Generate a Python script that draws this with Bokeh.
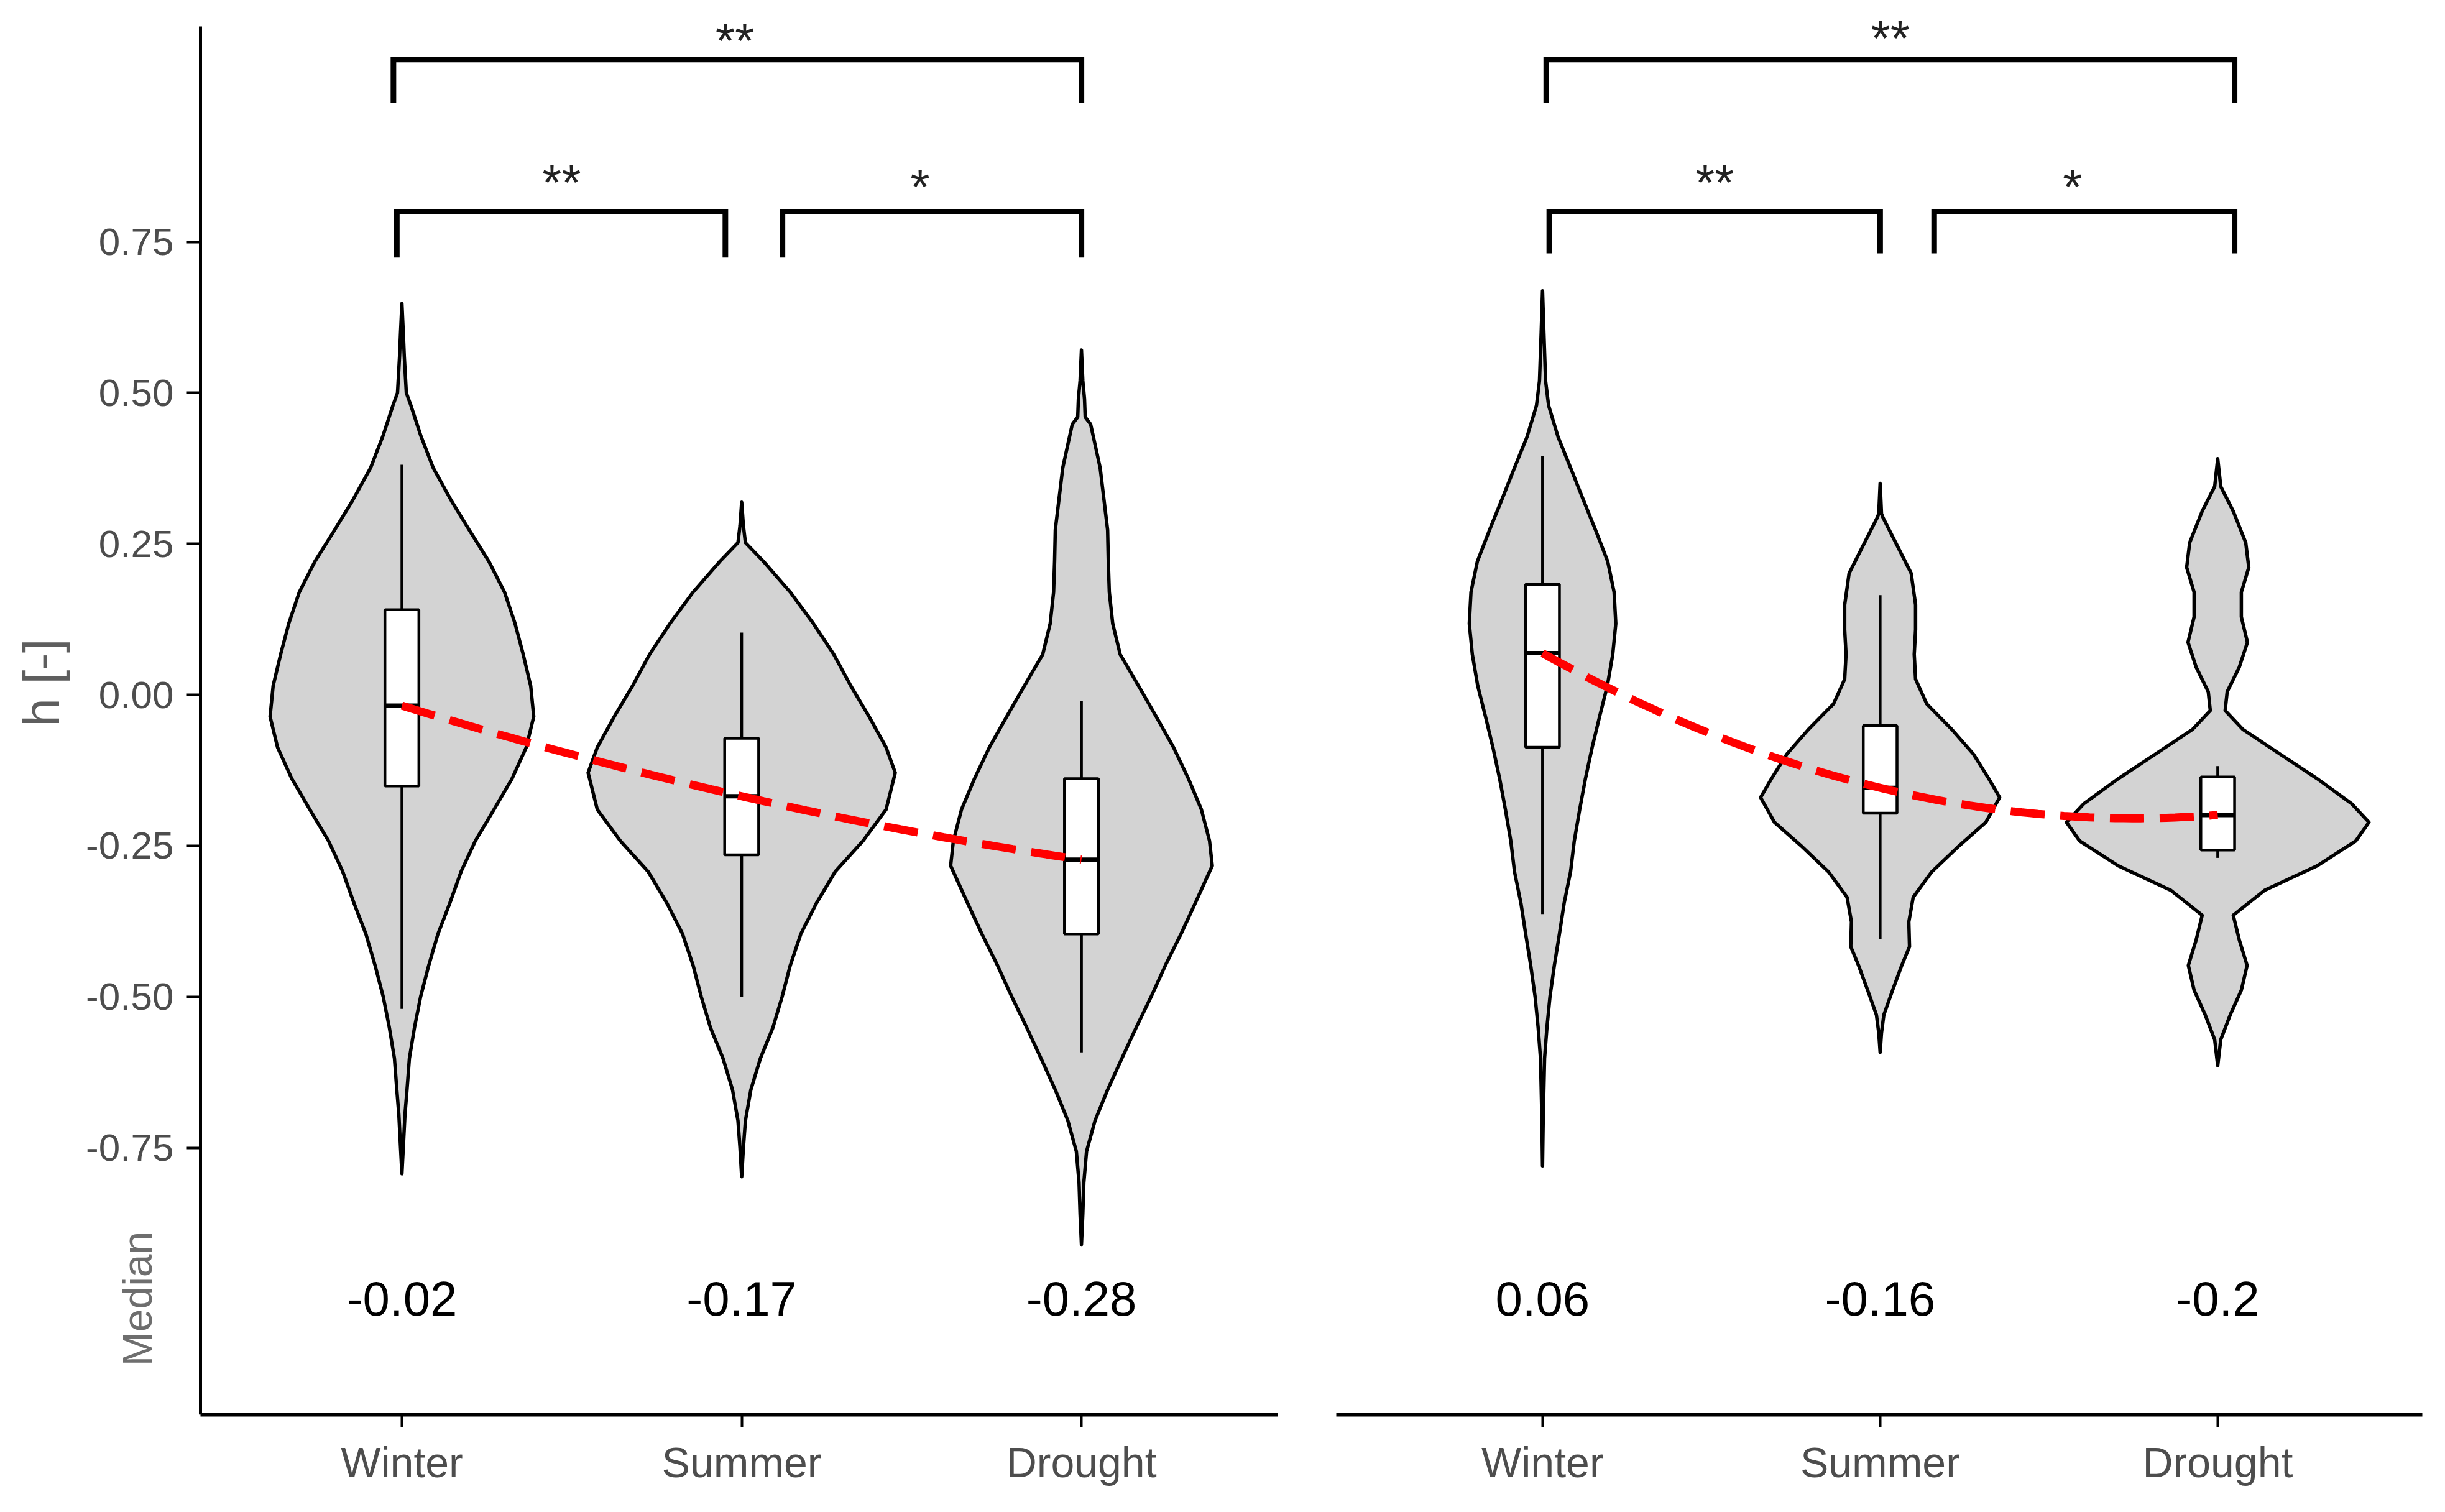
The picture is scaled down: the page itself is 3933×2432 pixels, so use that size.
import numpy as np
from bokeh.plotting import figure
from bokeh.models import ColumnDataSource, FixedTicker, Range1d
from bokeh.layouts import row
from bokeh.embed import file_html
from bokeh.resources import INLINE
from bokeh.core.properties import value

# ---------------- data ----------------
categories = ["Winter", "Summer", "Drought"]
cat_pos = [1, 2, 3]
y_ticks = [-0.75, -0.5, -0.25, 0.0, 0.25, 0.5, 0.75]
y_tick_labels = ["-0.75", "-0.50", "-0.25", "0.00", "0.25", "0.50", "0.75"]

# violin outlines: h levels and half-widths (in category units)
left_winter_y = [0.648, 0.60, 0.56, 0.50, 0.48, 0.43, 0.376, 0.32, 0.273, 0.221, 0.170, 0.118, 0.067, 0.015,
                 -0.036, -0.087, -0.139, -0.19, -0.242, -0.293, -0.345, -0.396, -0.448, -0.50, -0.551, -0.602,
                 -0.654, -0.695, -0.75, -0.793]
left_winter_w = [0, .004, .007, .013, .026, .055, .092, .147, .198, .256, .302, .333, .357, .379,
                 .388, .366, .324, .271, .216, .174, .141, .106, .079, .055, .037, .022,
                 .015, .009, .004, 0]
left_summer_y = [0.319, 0.28, 0.252, 0.221, 0.170, 0.118, 0.067, 0.015, -0.036, -0.087, -0.129, -0.19, -0.242,
                 -0.293, -0.345, -0.396, -0.448, -0.50, -0.551, -0.602, -0.654, -0.705, -0.75, -0.798]
left_summer_w = [0, .005, .011, .064, .143, .211, .271, .321, .375, .425, .452, .425, .357,
                 .275, .220, .174, .143, .119, .092, .055, .027, .011, .005, 0]
left_drought_y = [0.571, 0.52, 0.49, 0.46, 0.448, 0.376, 0.273, 0.221, 0.170, 0.118, 0.067, 0.015, -0.036,
                  -0.087, -0.139, -0.19, -0.242, -0.283, -0.345, -0.396, -0.448, -0.50, -0.551, -0.602,
                  -0.654, -0.705, -0.756, -0.808, -0.86, -0.91]
left_drought_w = [0, .004, .009, .011, .027, .055, .077, .079, .082, .092, .114, .168, .220,
                  .271, .315, .353, .377, .385, .335, .293, .247, .205, .161, .119,
                  .077, .040, .015, .007, .004, 0]

right_winter_y = [0.669, 0.60, 0.52, 0.479, 0.427, 0.376, 0.324, 0.273, 0.221, 0.170, 0.118, 0.067, 0.015,
                  -0.036, -0.087, -0.139, -0.19, -0.242, -0.293, -0.345, -0.396, -0.448, -0.50, -0.551,
                  -0.602, -0.70, -0.78]
right_winter_w = [0, .004, .009, .018, .046, .083, .120, .157, .193, .212, .217, .208, .192,
                  .169, .147, .127, .110, .094, .083, .064, .050, .035, .022, .013,
                  .006, .002, 0]
right_summer_y = [0.35, 0.30, 0.293, 0.252, 0.201, 0.149, 0.108, 0.067, 0.026, -0.015, -0.057, -0.098, -0.139,
                  -0.17, -0.211, -0.252, -0.293, -0.335, -0.376, -0.417, -0.448, -0.489, -0.53, -0.56, -0.592]
right_summer_w = [0, .004, .009, .046, .092, .105, .105, .101, .105, .138, .212, .276, .322,
                  .354, .313, .230, .153, .098, .085, .087, .064, .037, .011, .004, 0]
right_drought_y = [0.391, 0.345, 0.304, 0.252, 0.211, 0.170, 0.129, 0.087, 0.046, 0.005, -0.026, -0.057,
                   -0.098, -0.139, -0.18, -0.211, -0.242, -0.283, -0.324, -0.365, -0.406, -0.448, -0.489,
                   -0.53, -0.571, -0.614]
right_drought_w = [0, .009, .046, .083, .092, .070, .070, .088, .064, .028, .022, .074,
                   .184, .295, .396, .448, .409, .295, .138, .046, .064, .087, .070,
                   .037, .009, 0]

# box-plot statistics
left_q1 = [-0.151, -0.265, -0.396]
left_med = [-0.018, -0.168, -0.273]
left_q3 = [0.141, -0.072, -0.139]
left_lo = [-0.52, -0.50, -0.592]
left_hi = [0.381, 0.103, -0.01]

right_q1 = [-0.087, -0.196, -0.257]
right_med = [0.069, -0.154, -0.199]
right_q3 = [0.183, -0.051, -0.136]
right_lo = [-0.363, -0.405, -0.27]
right_hi = [0.396, 0.165, -0.118]

left_median_labels = ["-0.02", "-0.17", "-0.28"]
right_median_labels = ["0.06", "-0.16", "-0.2"]
median_label_y = -1.0

# significance brackets
left_br_x0 = [0.975, 0.985, 2.12]
left_br_x1 = [3.0, 1.952, 3.0]
left_br_top = [1.052, 0.80, 0.80]
left_br_tip = [0.98, 0.724, 0.724]
left_star_x = [1.98, 1.47, 2.525]
left_star_y = [1.083, 0.848, 0.841]
left_stars = ["**", "**", "*"]

right_br_x0 = [1.011, 1.02, 2.16]
right_br_x1 = [3.05, 2.0, 3.05]
right_br_top = [1.052, 0.80, 0.80]
right_br_tip = [0.98, 0.731, 0.731]
right_star_x = [2.03, 1.51, 2.57]
right_star_y = [1.087, 0.848, 0.841]
right_stars = ["**", "**", "*"]

y_title = "h [-]"
median_title = "Median"

FONT = "Liberation Sans"
Y_BOTTOM = -1.192
Y_AXIS_TOP = 1.107
Y_TOP = 1.150
BOX_HALF = 0.05


def make_panel(violins, q1, med, q3, lo, hi, med_labels, br, stars,
               width, x_range, axis_bounds, border_left, border_right, show_y):
    p = figure(width=width, height=2416, output_backend="svg", toolbar_location=None,
               x_range=Range1d(*x_range), y_range=Range1d(Y_BOTTOM, Y_TOP),
               min_border_left=border_left, min_border_right=border_right,
               min_border_top=0, min_border_bottom=141)
    p.outline_line_color = None
    p.xgrid.visible = False
    p.ygrid.visible = False
    p.background_fill_color = "white"
    p.border_fill_color = "white"

    # violins
    xs, ys = [], []
    for c, (vy, vw) in zip(cat_pos, violins):
        vy = np.array(vy)
        vw = np.array(vw)
        xs.append(list(np.concatenate([c + vw, (c - vw)[::-1]])))
        ys.append(list(np.concatenate([vy, vy[::-1]])))
    p.patches(xs, ys, fill_color="#D3D3D3", line_color="black", line_width=5.5, line_join="round")

    # whiskers
    p.segment(x0=cat_pos, y0=q3, x1=cat_pos, y1=hi, line_color="black", line_width=4.5)
    p.segment(x0=cat_pos, y0=q1, x1=cat_pos, y1=lo, line_color="black", line_width=4.5)
    # boxes
    left = [c - BOX_HALF for c in cat_pos]
    right = [c + BOX_HALF for c in cat_pos]
    p.quad(left=left, right=right, bottom=q1, top=q3, fill_color="white",
           line_color="black", line_width=4.5)
    p.segment(x0=left, y0=med, x1=right, y1=med, line_color="black", line_width=7)

    # quadratic smooth through medians
    coef = np.polyfit(cat_pos, med, 2)
    sx = np.linspace(cat_pos[0], cat_pos[-1], 80)
    p.line(sx, np.polyval(coef, sx), line_color="#FF0000", line_width=13, line_dash="55 25")

    # brackets
    x0, x1, top, tip = br
    bxs = [[a, a, b, b] for a, b in zip(x0, x1)]
    bys = [[t, h, h, t] for h, t in zip(top, tip)]
    p.multi_line(bxs, bys, line_color="black", line_width=9, line_join="miter")

    # stars
    sx_, sy_, st_ = stars
    star_src = ColumnDataSource(dict(x=sx_, y=sy_, text=st_))
    p.text(x="x", y="y", text="text", source=star_src, text_font=value(FONT),
           text_font_size=value("80px"), text_color="#222222",
           text_align="center", text_baseline="alphabetic")

    # median labels
    msrc = ColumnDataSource(dict(x=cat_pos, y=[median_label_y] * 3, text=med_labels))
    p.text(x="x", y="y", text="text", source=msrc, text_font=value(FONT),
           text_font_size=value("78px"), text_color="black",
           text_align="center", text_baseline="middle")

    # x axis
    xa = p.xaxis[0]
    xa.bounds = axis_bounds
    xa.ticker = FixedTicker(ticks=cat_pos)
    xa.major_label_overrides = {c: n for c, n in zip(cat_pos, categories)}
    xa.minor_tick_line_color = None
    xa.major_tick_out = 20
    xa.major_tick_in = 0
    xa.major_tick_line_width = 4
    xa.axis_line_width = 6
    xa.axis_line_color = "black"
    xa.major_label_text_font = FONT
    xa.major_label_text_font_size = "68px"
    xa.major_label_text_color = "#4D4D4D"
    xa.major_label_standoff = 18

    ya = p.yaxis[0]
    if show_y:
        ya.fixed_location = axis_bounds[0]
        ya.bounds = (Y_BOTTOM, Y_AXIS_TOP)
        ya.ticker = FixedTicker(ticks=y_ticks)
        ya.major_label_overrides = {t: l for t, l in zip(y_ticks, y_tick_labels)}
        ya.minor_tick_line_color = None
        ya.major_tick_out = 22
        ya.major_tick_in = 0
        ya.major_tick_line_width = 4
        ya.axis_line_width = 5
        ya.axis_line_color = "black"
        ya.major_label_text_font = FONT
        ya.major_label_text_font_size = "62px"
        ya.major_label_text_color = "#4D4D4D"
        ya.major_label_standoff = 21
        p.text(x=[-0.061], y=[0.02], text=[y_title], angle=np.pi / 2,
               text_font=value(FONT), text_font_size=value("82px"), text_color="#5E5E5E",
               text_align="center", text_baseline="middle")
        p.text(x=[0.222], y=[median_label_y], text=[median_title], angle=np.pi / 2,
               text_font=value(FONT), text_font_size=value("66px"), text_color="#6E6E6E",
               text_align="center", text_baseline="middle")
    else:
        ya.visible = False
    return p


left_panel = make_panel(
    [(left_winter_y, left_winter_w), (left_summer_y, left_summer_w), (left_drought_y, left_drought_w)],
    left_q1, left_med, left_q3, left_lo, left_hi, left_median_labels,
    (left_br_x0, left_br_x1, left_br_top, left_br_tip),
    (left_star_x, left_star_y, left_stars),
    width=2102, x_range=(-0.182, 3.578), axis_bounds=(0.407, 3.578),
    border_left=0, border_right=47, show_y=True)

right_panel = make_panel(
    [(right_winter_y, right_winter_w), (right_summer_y, right_summer_w), (right_drought_y, right_drought_w)],
    right_q1, right_med, right_q3, right_lo, right_hi, right_median_labels,
    (right_br_x0, right_br_x1, right_br_top, right_br_tip),
    (right_star_x, right_star_y, right_stars),
    width=1815, x_range=(0.389, 3.606), axis_bounds=(0.389, 3.606),
    border_left=47, border_right=21, show_y=False)

layout = row(left_panel, right_panel, spacing=0)
open("out.html", "w").write(file_html(layout, INLINE))
